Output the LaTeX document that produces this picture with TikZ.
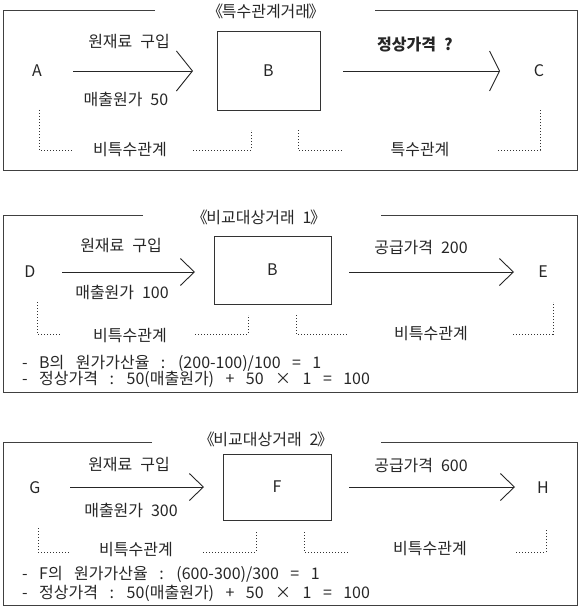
\documentclass[tikz,border=0pt]{standalone}
\usepackage{fontspec}
\setmainfont[WordSpace=2.2]{Noto Sans CJK KR}
\newfontfamily\notefont[WordSpace=3.2]{Noto Sans CJK KR}
\usetikzlibrary{arrows.meta}
\newcommand{\myopenq}{《\kern-1.5pt}
\newcommand{\mycloseq}{\kern-1.5pt》}
\begin{document}
\begin{tikzpicture}[x=1pt,y=-1pt,
  every node/.style={font=\fontsize{16}{19}\selectfont, text=black!85, inner sep=0pt},
  frame/.style={draw=black!75, line width=0.9pt},
  boxnode/.style={draw=black!80, line width=0.9pt},
  flow/.style={draw=black!85, line width=0.9pt},
  arrbig/.style={flow, -{Straight Barb[length=16pt,width=40pt]}},
  arrbigb/.style={flow, -{Straight Barb[length=10pt,width=40pt]}},
  arrsmall/.style={flow, -{Straight Barb[length=14pt,width=27pt]}},
  rel/.style={draw=black!80, line width=0.9pt, dash pattern=on 1pt off 2pt},
  boldtxt/.style={font=\fontsize{16}{19}\selectfont\bfseries},
  note/.style={anchor=west, font=\fontsize{16}{19}\notefont}
]
\useasboundingbox (0,0) rectangle (580,607);

% ---------------- Panel 1 ----------------
\draw[frame] (155,10) -- (3,10) -- (3,170) -- (577,170) -- (577,10) -- (375,10);
\node (T1) at (266,11) {\myopenq 특수관계거래\mycloseq};
\node (A) at (37,71) {A};
\node[boxnode, minimum width=103pt, minimum height=79pt] (B1) at (268.5,70.5) {B};
\node (C) at (539,71) {C};
\coordinate (a1s) at (73,71); \coordinate (a1e) at (193,71);
\coordinate (a2s) at (343,71); \coordinate (a2e) at (500,71);
\draw[arrbig] (a1s) -- (a1e);
\draw[arrbigb] (a2s) -- (a2e);
\node (L11) at (129,42) {원재료 구입};
\node (L12) at (126,99) {매출원가 50};
\node[boldtxt] (L13) at (415,45) {정상가격 ?};
\draw[rel] (39,110) -- (39,150) -- (72,150);
\draw[rel] (193,150) -- (251,150) -- (251,130);
\draw[rel] (298,130) -- (298,150) -- (342,150);
\draw[rel] (498,150) -- (540,150) -- (540,110);
\node (R11) at (130,150) {비특수관계};
\node (R12) at (420,150) {특수관계};

% ---------------- Panel 2 ----------------
\draw[frame] (143,215) -- (3,215) -- (3,392) -- (577,392) -- (577,215) -- (381,215);
\node (T2) at (259,217) {\myopenq 비교대상거래 1\mycloseq};
\node (D) at (30,272) {D};
\node[boxnode, minimum width=117pt, minimum height=68pt] (B2) at (272.5,270) {B};
\node (E) at (543,272) {E};
\coordinate (b1s) at (62,272); \coordinate (b1e) at (195,272);
\coordinate (b2s) at (349,272); \coordinate (b2e) at (514,272);
\draw[arrsmall] (b1s) -- (b1e);
\draw[arrsmall] (b2s) -- (b2e);
\node (L21) at (121,246) {원재료 구입};
\node (L22) at (122,292) {매출원가 100};
\node (L23) at (421,247) {공급가격 200};
\draw[rel] (37,302) -- (37,334) -- (60,334);
\draw[rel] (195,334) -- (248,334) -- (248,315);
\draw[rel] (296,315) -- (296,334) -- (347,334);
\draw[rel] (513,334) -- (553,334) -- (553,302);
\node (R21) at (130,336) {비특수관계};
\node (R22) at (431,334) {비특수관계};
\node[note] (N21) at (22,363) {- B의 원가가산율 : (200-100)/100 = 1};
\node[note] (N22) at (22,379) {- 정상가격 : 50(매출원가) + 50 × 1 = 100};

% ---------------- Panel 3 ----------------
\draw[frame] (152,442) -- (3,442) -- (3,605) -- (577,605) -- (577,442) -- (381,442);
\node (T3) at (266,439) {\myopenq 비교대상거래 2\mycloseq};
\node (G) at (35,488) {G};
\node[boxnode, minimum width=108pt, minimum height=66pt] (F) at (277,487) {F};
\node (H) at (543,488) {H};
\coordinate (c1s) at (70,487); \coordinate (c1e) at (204,487);
\coordinate (c2s) at (349,487); \coordinate (c2e) at (515,487);
\draw[arrsmall] (c1s) -- (c1e);
\draw[arrsmall] (c2s) -- (c2e);
\node (L31) at (129,465) {원재료 구입};
\node (L32) at (131,510) {매출원가 300};
\node (L33) at (421,465) {공급가격 600};
\draw[rel] (38,528) -- (38,552) -- (70,552);
\draw[rel] (203,552) -- (256,552) -- (256,532);
\draw[rel] (304,532) -- (304,552) -- (348,552);
\draw[rel] (516,552) -- (546,552) -- (546,528);
\node (R31) at (136,550) {비특수관계};
\node (R32) at (430,549) {비특수관계};
\node[note] (N31) at (22,574) {- F의 원가가산율 : (600-300)/300 = 1};
\node[note] (N32) at (22,593) {- 정상가격 : 50(매출원가) + 50 × 1 = 100};
\end{tikzpicture}
\end{document}
